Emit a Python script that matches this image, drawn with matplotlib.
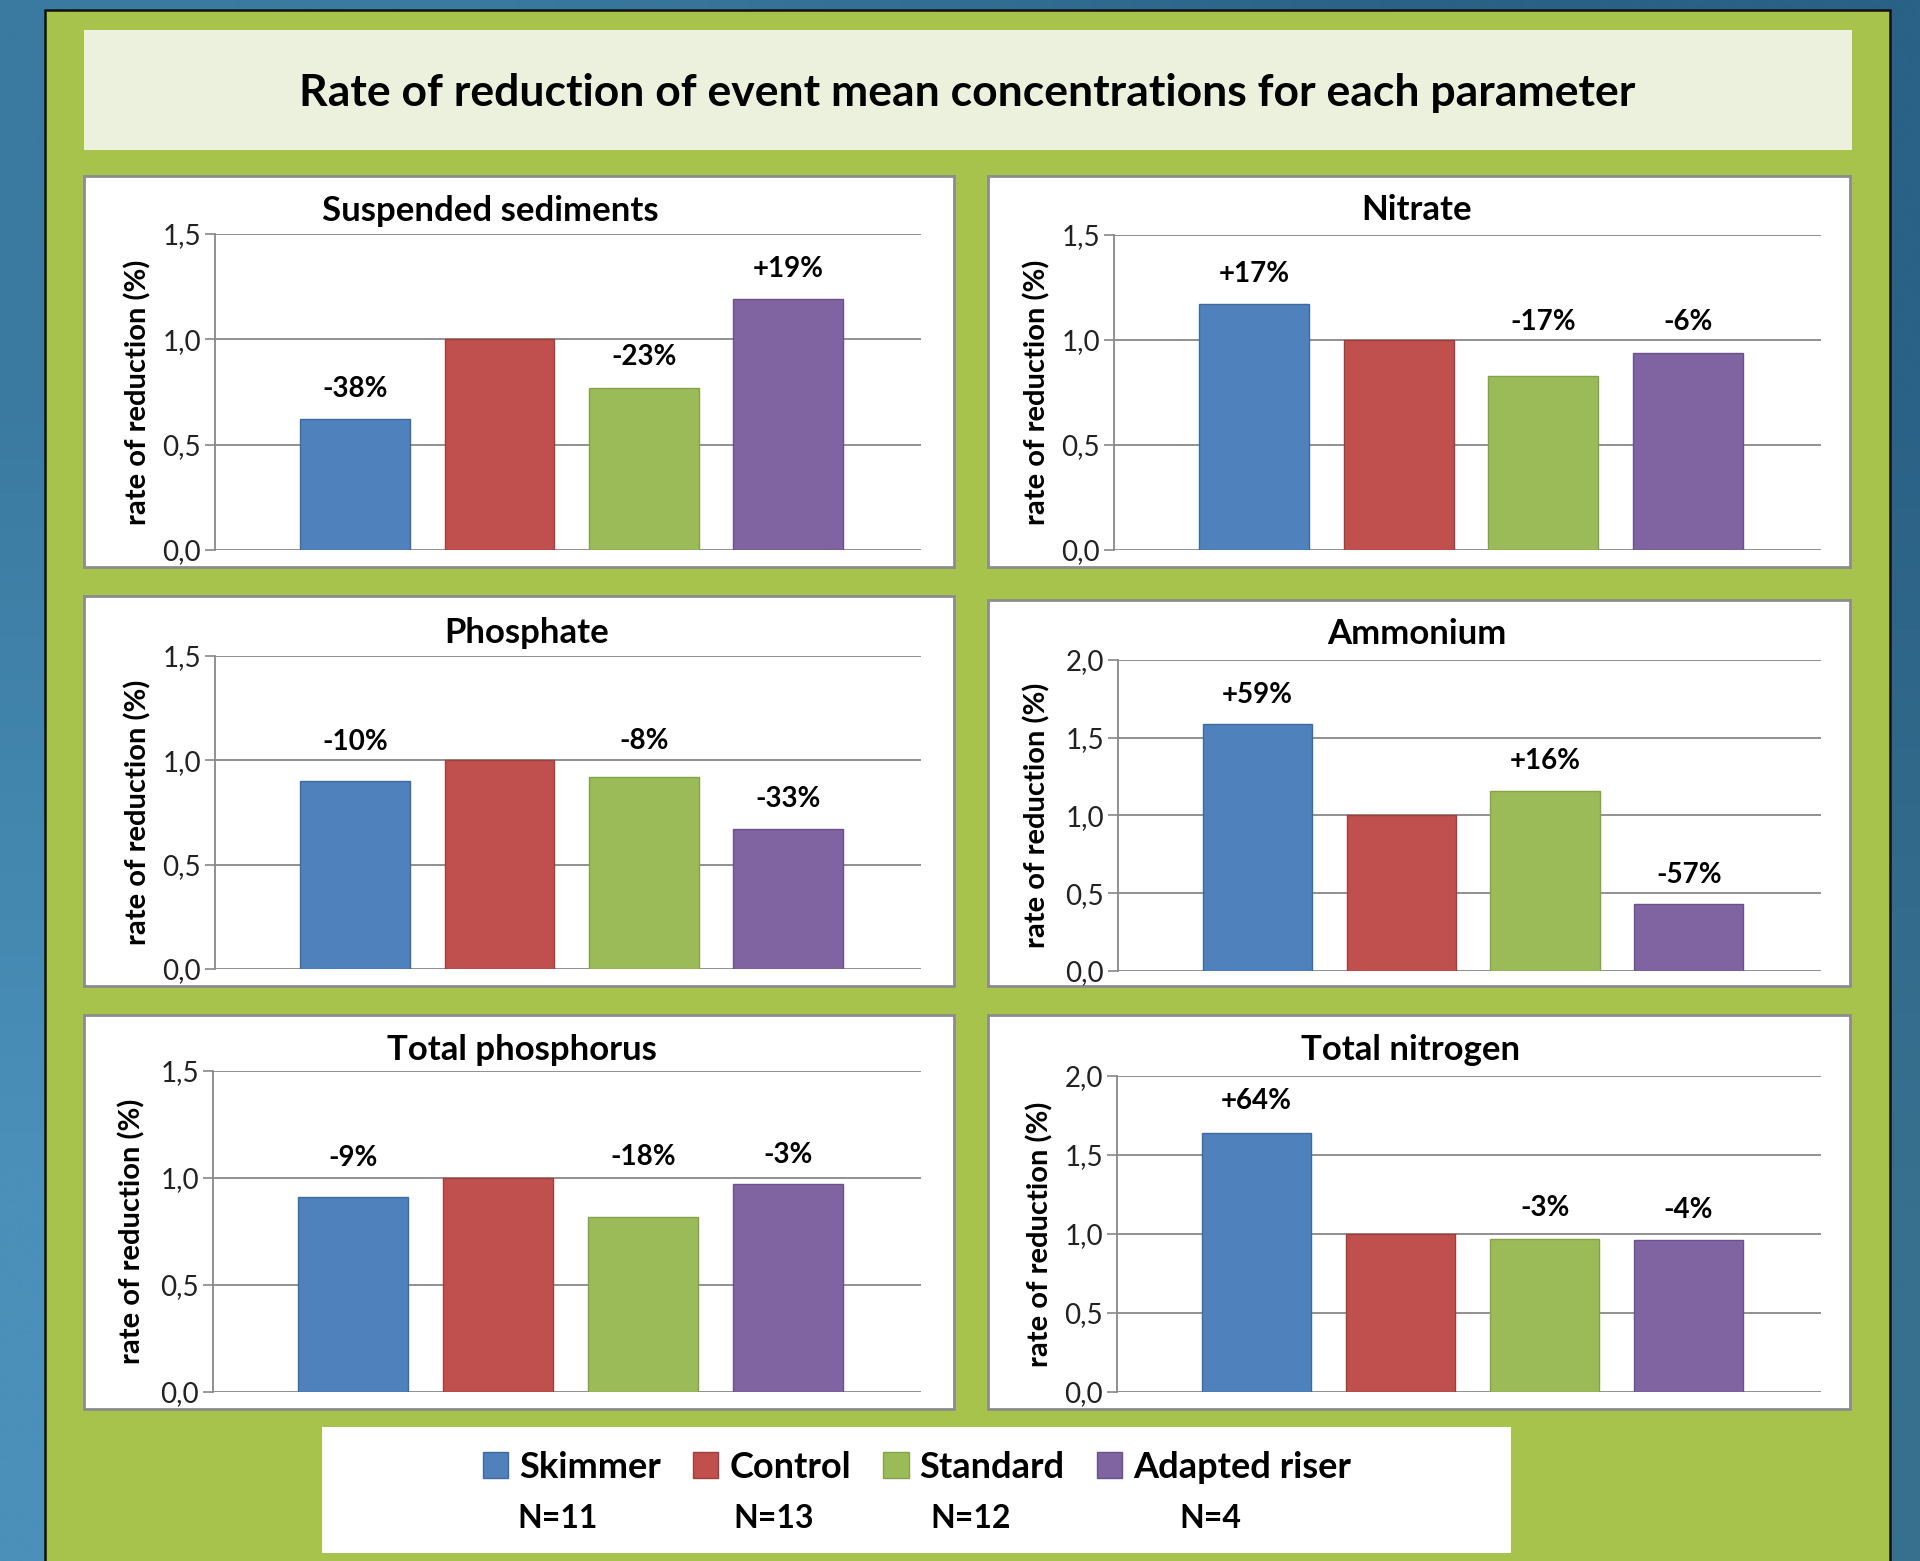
import numpy as np
import matplotlib
matplotlib.use("Agg")
import matplotlib.pyplot as plt
from matplotlib.patches import Rectangle
from matplotlib.colors import to_rgb

plt.rcParams['font.family'] = ['Lato', 'DejaVu Sans']

W, H = 1920, 1561

# treatments and sample sizes
groups = ['Skimmer', 'Control', 'Standard', 'Adapted riser']
n_obs = [11, 13, 12, 4]
colors = ['#4f81bd', '#c0504d', '#9bbb59', '#8064a2']
edges = ['#3f6a9e', '#9e3f3c', '#84a24a', '#69518a']

# change of event mean concentration vs control (%)
params = ['Suspended sediments', 'Nitrate', 'Phosphate', 'Ammonium',
          'Total phosphorus', 'Total nitrogen']
susp_sed = [-38, 0, -23, 19]
nitrate = [17, 0, -17, -6]
phosphate = [-10, 0, -8, -33]
ammonium = [59, 0, 16, -57]
total_p = [-9, 0, -18, -3]
total_n = [64, 0, -3, -4]
changes = [susp_sed, nitrate, phosphate, ammonium, total_p, total_n]

ticks_15 = [0.0, 0.5, 1.0, 1.5]
ticks_20 = [0.0, 0.5, 1.0, 1.5, 2.0]
yticks = [ticks_15, ticks_15, ticks_15, ticks_20, ticks_15, ticks_20]

# how far each value label sits above its bar (points)
lift = [[22, 0, 22, 22], [22, 0, 39, 22], [28, 0, 26, 22],
        [21, 0, 21, 21], [28, 0, 43, 21], [23, 0, 22, 22]]


def box(x0, y0, x1, y1):
    # pixel box (top-left origin) -> figure fraction rect
    return [x0 / W, 1 - y1 / H, (x1 - x0) / W, (y1 - y0) / H]


fig = plt.figure(figsize=(W / 100, H / 100), dpi=100)

# blue slide background
bg = fig.add_axes([0, 0, 1, 1])
corners = np.array([[to_rgb('#3a7aa0'), to_rgb('#2a6186')],
                    [to_rgb('#4a90b9'), to_rgb('#37708f')]])
bg.imshow(corners, extent=[0, W, H, 0], interpolation='bilinear', aspect='auto')
bg.set_xlim(0, W)
bg.set_ylim(H, 0)
bg.axis('off')

bg.add_patch(Rectangle((45, 10), 1845, 1570, facecolor='#a8c34b',
                       edgecolor='#111111', lw=1.8))
bg.add_patch(Rectangle((84, 30), 1768, 120, facecolor='#ebf1dd', lw=0))
bg.text(967, 93, 'Rate of reduction of event mean concentrations for each parameter',
        ha='center', va='center', fontsize=32, fontweight='bold', color='black')

panel_px = [(84, 176, 954, 567), (988, 176, 1850, 567),
            (84, 596, 954, 986), (988, 600, 1850, 986),
            (84, 1015, 954, 1409), (988, 1015, 1850, 1409)]
axes_px = [(215, 234, 921, 550), (1114, 235, 1821, 550),
           (215, 656, 921, 969), (1118, 660, 1821, 971),
           (213, 1071, 921, 1392), (1117, 1076, 1821, 1392)]
title_px = [(490, 211), (1417, 210), (527, 633), (1417, 634), (522, 1050), (1411, 1050)]
ylab_x = [138, 1037, 138, 1037, 132, 1040]

for p in panel_px:
    bg.add_patch(Rectangle((p[0], p[1]), p[2] - p[0], p[3] - p[1],
                           facecolor='white', edgecolor='#8c8c8c', lw=2))

bg.add_patch(Rectangle((322, 1427), 1189, 126, facecolor='white', lw=0))

x = np.arange(len(groups))
handles = None
for i, name in enumerate(params):
    ax = fig.add_axes(box(*axes_px[i]))
    vals = [1 + c / 100 for c in changes[i]]
    bars = ax.bar(x, vals, width=0.76, color=colors, edgecolor=edges, lw=1, zorder=3)
    if handles is None:
        handles = bars
    for j, c in enumerate(changes[i]):
        if groups[j] == 'Control':
            continue
        ax.annotate('%+d%%' % c, (x[j], vals[j]), xytext=(0, lift[i][j]),
                    textcoords='offset points', ha='center', va='center',
                    fontsize=20, fontweight='bold')
    ax.set_xlim(-0.97, 3.92)
    ax.set_ylim(0, yticks[i][-1])
    ax.set_yticks(yticks[i])
    ax.set_yticklabels([('%.1f' % t).replace('.', ',') for t in yticks[i]],
                       fontsize=20, color='#222222')
    ax.tick_params(axis='y', length=7, width=1.2, color='#888888', pad=3)
    ax.set_xticks([])
    ax.yaxis.grid(True, color='#888888', lw=1.3, zorder=0)
    for s in ['top', 'right', 'bottom']:
        ax.spines[s].set_visible(False)
    ax.spines['left'].set_color('#888888')
    ax.spines['left'].set_linewidth(1.3)
    ax.patch.set_alpha(0)

    ymid = (axes_px[i][1] + axes_px[i][3]) / 2
    bg.text(ylab_x[i], ymid, 'rate of reduction (%)', rotation=90,
            ha='center', va='center', fontsize=21, fontweight='bold')
    bg.text(title_px[i][0], title_px[i][1], name, ha='center', va='center',
            fontsize=25, fontweight='bold')

fig.legend(handles, groups, loc='center', bbox_to_anchor=(917 / W, 1 - 1467 / H),
           ncol=4, frameon=False, handlelength=0.7, handleheight=0.7,
           handletextpad=0.3, columnspacing=0.9,
           prop={'size': 26, 'weight': 'bold'})

n_x = [558, 774, 971, 1210]
for xi, n in zip(n_x, n_obs):
    bg.text(xi, 1519, 'N=%d' % n, ha='center', va='center',
            fontsize=23, fontweight='bold')

fig.savefig('out.png', dpi=100)
